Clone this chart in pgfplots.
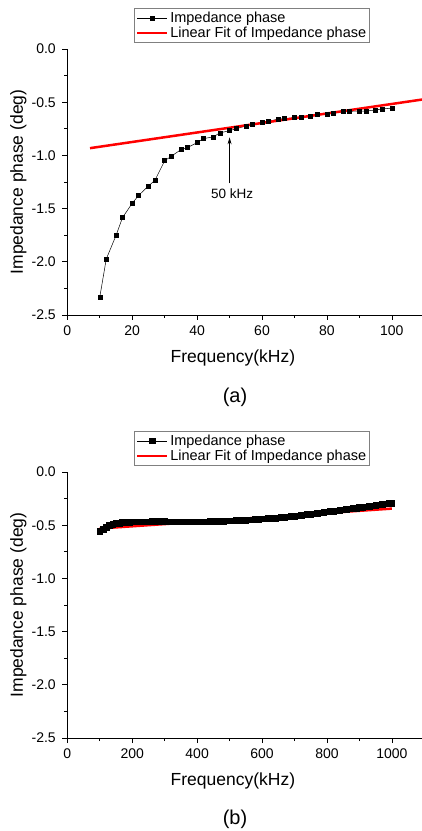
\documentclass[border=0pt]{standalone}
\usepackage{fontspec}
\setmainfont{Liberation Sans}
\usepackage{pgfplots}
\pgfplotsset{compat=1.18}
\usetikzlibrary{arrows.meta}

\pgfplotsset{
 myaxis/.style={
  scale only axis, width=357pt, height=266pt,
  axis x line*=bottom, axis y line*=left, axis line style={-, line width=0.8pt},
  ymin=-2.5, ymax=0,
  ytick={-2.5,-2,-1.5,-1,-0.5,0}, yticklabels={-2.5,-2.0,-1.5,-1.0,-0.5,0.0},
  minor y tick num=1, minor x tick num=1,
  tick align=outside, major tick length=5pt, minor tick length=3pt,
  tick style={line width=0.6pt, black},
  ticklabel style={font=\fontsize{14}{16}\selectfont},
  yticklabel style={xshift=-3pt},
  xticklabel style={yshift=-2pt},
  label style={font=\fontsize{17.5}{20}\selectfont},
  xlabel={Frequency(kHz)}, ylabel={Impedance phase (deg)},
  xlabel style={at={(axis description cs:0.464,-0.163)}, anchor=center},
  ylabel style={at={(axis description cs:-0.137,0.5)}, anchor=center},
  legend style={at={(0.187,1.154)}, anchor=north west, draw=gray, line width=0.5pt,
     font=\fontsize{14.5}{16}\selectfont, inner sep=1.5pt, row sep=-1pt, cells={anchor=west}},
  legend image code/.code={\draw[mark repeat=2,mark phase=2,#1] plot coordinates {(0pt,0pt)(15pt,0pt)(30pt,0pt)};},
  clip=false,
 },
 dataline/.style={black, line width=0.5pt, mark=square*, mark size=2pt, mark options={solid}},
 fitline/.style={red, line width=2.5pt, no marks},
}

\begin{document}
\begin{tikzpicture}
\path[use as bounding box] (0,0) rectangle (422pt,831pt);

\begin{axis}[myaxis, at={(67.3pt,516pt)}, anchor=south west,
  xmin=0, xmax=110, xtick={0,20,40,60,80,100}, xticklabels={0,20,40,60,80,100}]
\addplot[dataline] coordinates {
(10,-2.334) (12,-1.974) (15,-1.754) (17,-1.585) (20,-1.45) (22,-1.375)
(25,-1.288) (27,-1.234) (30,-1.05) (32,-1.009) (35,-0.946) (37,-0.927)
(40,-0.88) (42,-0.842) (45,-0.826) (47,-0.788) (50,-0.768) (52,-0.749)
(55,-0.724) (57,-0.708) (60,-0.689) (62,-0.68) (65,-0.658) (67,-0.655)
(70,-0.645) (72,-0.639) (75,-0.636) (77,-0.617) (80,-0.611) (82,-0.604)
(85,-0.586) (87,-0.586) (90,-0.583) (92,-0.583) (95,-0.573) (97,-0.564)
(100,-0.555)};
\addlegendentry{Impedance phase}
\addplot[fitline] coordinates {(7,-0.932) (110,-0.472)};
\addlegendentry{Linear Fit of Impedance phase}
\draw[-{Stealth[length=7pt,width=4pt]}, line width=0.8pt] (axis cs:50,-1.262) -- (axis cs:50,-0.83);
\node[font=\fontsize{13.5}{15}\selectfont] at (axis cs:50.8,-1.356) {50 kHz};
\end{axis}

\begin{axis}[myaxis, at={(67.3pt,93pt)}, anchor=south west,
  xmin=0, xmax=1100, xtick={0,200,400,600,800,1000}, xticklabels={0,200,400,600,800,1000}]
\addplot[dataline, mark size=2.8pt] coordinates {
(100,-0.556) (110,-0.536) (120,-0.518) (130,-0.503) (140,-0.492) (150,-0.484)
(160,-0.479) (170,-0.475) (180,-0.472) (190,-0.470) (200,-0.469) (210,-0.468)
(220,-0.467) (230,-0.467) (240,-0.466) (250,-0.466) (260,-0.465) (270,-0.465)
(280,-0.465) (290,-0.465) (300,-0.465) (310,-0.466) (320,-0.466) (330,-0.466)
(340,-0.466) (350,-0.467) (360,-0.467) (370,-0.467) (380,-0.467) (390,-0.467)
(400,-0.467) (410,-0.467) (420,-0.466) (430,-0.466) (440,-0.465) (450,-0.464)
(460,-0.463) (470,-0.462) (480,-0.461) (490,-0.460) (500,-0.458) (510,-0.457)
(520,-0.455) (530,-0.454) (540,-0.452) (550,-0.451) (560,-0.449) (570,-0.447)
(580,-0.445) (590,-0.443) (600,-0.441) (610,-0.439) (620,-0.437) (630,-0.435)
(640,-0.432) (650,-0.430) (660,-0.427) (670,-0.424) (680,-0.421) (690,-0.418)
(700,-0.414) (710,-0.411) (720,-0.407) (730,-0.403) (740,-0.399) (750,-0.395)
(760,-0.391) (770,-0.387) (780,-0.383) (790,-0.379) (800,-0.375) (810,-0.371)
(820,-0.367) (830,-0.363) (840,-0.359) (850,-0.355) (860,-0.351) (870,-0.347)
(880,-0.342) (890,-0.338) (900,-0.334) (910,-0.330) (920,-0.326) (930,-0.322)
(940,-0.318) (950,-0.314) (960,-0.309) (970,-0.305) (980,-0.300) (990,-0.296)
(1000,-0.292)};
\addlegendentry{Impedance phase}
\addplot[fitline] coordinates {(100,-0.531) (1000,-0.344)};
\addlegendentry{Linear Fit of Impedance phase}
\end{axis}

\node[font=\fontsize{20}{22}\selectfont] at (235pt,433.7pt) {(a)};
\node[font=\fontsize{20}{22}\selectfont] at (235pt,12pt) {(b)};
\end{tikzpicture}
\end{document}
